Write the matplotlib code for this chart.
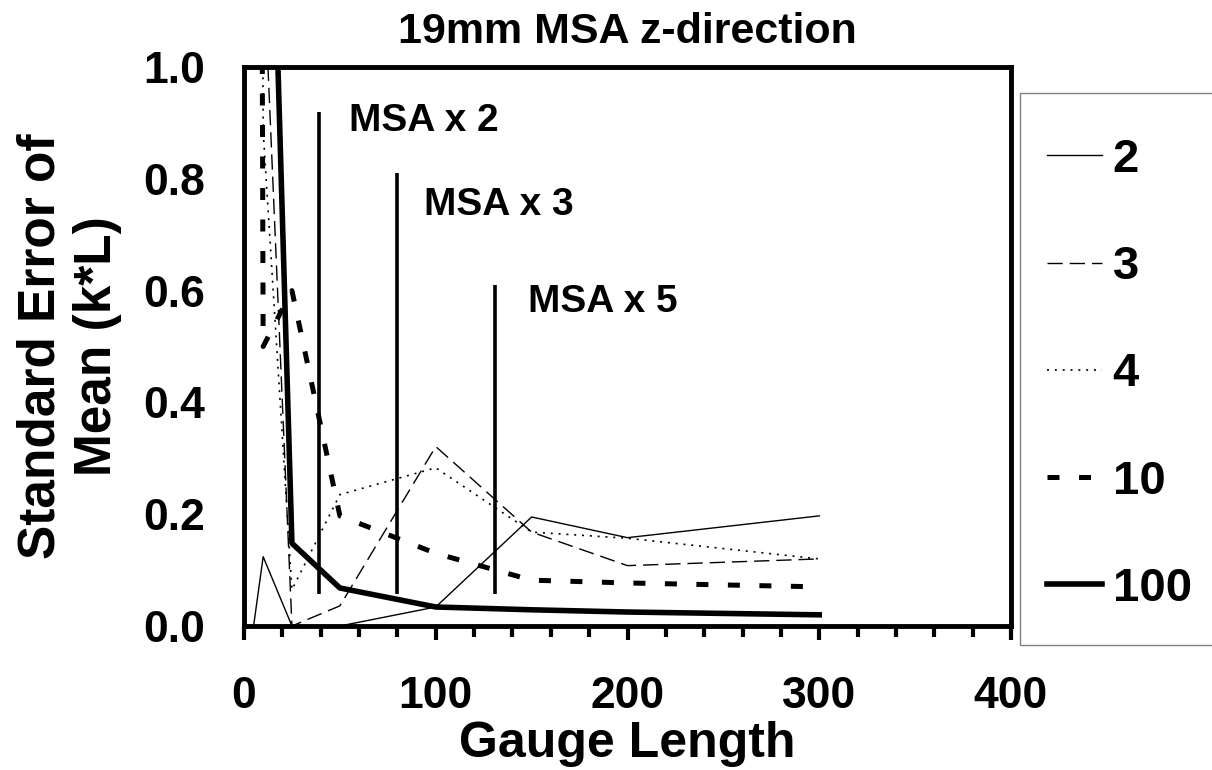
import numpy as np
import matplotlib
matplotlib.use('Agg')
import matplotlib.pyplot as plt
from matplotlib.ticker import MultipleLocator, FormatStrFormatter
from matplotlib.patches import Rectangle

plt.rcParams['font.family'] = ['Liberation Sans', 'DejaVu Sans']
plt.rcParams['font.weight'] = 'bold'

# gauge lengths and standard error of mean for each series
gauge = [5, 10, 25, 50, 100, 150, 200, 300]
se_2 = [0.0, 0.124, 0.0, 0.0, 0.034, 0.195, 0.158, 0.197]
se_3 = [np.nan, 1.2, 0.0, 0.036, 0.321, 0.168, 0.108, 0.12]
se_4 = [5.0, 0.885, 0.065, 0.235, 0.283, 0.168, 0.157, 0.12]
se_10 = [6.0, 0.5, 0.6, 0.197, 0.13, 0.082, 0.077, 0.07]
se_100 = [np.nan, 1.9, 0.148, 0.068, 0.034, 0.029, 0.025, 0.02]
series_labels = ['2', '3', '4', '10', '100']

# MSA marker lines
msa_x = [39, 80, 131]
msa_top = [0.92, 0.81, 0.61]
msa_bottom = [0.058, 0.058, 0.058]
msa_labels = ['MSA x 2', 'MSA x 3', 'MSA x 5']

fig = plt.figure(figsize=(12.12, 7.7), dpi=100)
W, H = 1212, 770
ax = fig.add_axes([244 / W, 1 - 626 / H, (1011 - 244) / W, (626 - 67) / H])

l2, = ax.plot(gauge, se_2, color='black', lw=1.0)
l3, = ax.plot(gauge, se_3, color='black', lw=1.0, dashes=(11, 5))
l4, = ax.plot(gauge, se_4, color='black', lw=1.2, dashes=(1.2, 3.5))
l10, = ax.plot(gauge, se_10, color='black', lw=3.6, dashes=(2.4, 3.9))
l100, = ax.plot(gauge, se_100, color='black', lw=4.0)

ax.vlines(msa_x, msa_bottom, msa_top, color='black', lw=2.6)
text_pos = [(55, 0.885), (94, 0.735), (148, 0.561)]
for (tx, ty), lab in zip(text_pos, msa_labels):
    ax.text(tx, ty, lab, fontsize=28, fontweight='bold', va='baseline', ha='left')

ax.set_xlim(0, 400)
ax.set_ylim(0, 1.0)
ax.xaxis.set_major_locator(MultipleLocator(100))
ax.xaxis.set_minor_locator(MultipleLocator(20))
ax.yaxis.set_major_locator(MultipleLocator(0.2))
ax.yaxis.set_major_formatter(FormatStrFormatter('%.1f'))

for s in ax.spines.values():
    s.set_linewidth(3.5)

ax.tick_params(axis='x', which='major', length=10, width=3, pad=26, labelsize=32)
ax.tick_params(axis='x', which='minor', length=8, width=3)
ax.tick_params(axis='y', which='major', length=0, pad=28, labelsize=32)

ax.set_title('19mm MSA z-direction', fontsize=31, fontweight='bold', pad=17)
ax.set_xlabel('Gauge Length', fontsize=36, fontweight='bold')
ax.xaxis.label.set_va('baseline')
ax.xaxis.set_label_coords(0.5, -(757 - 626) / 559)
ax.set_ylabel('Standard Error of\nMean (k*L)', fontsize=37, fontweight='bold', linespacing=1.2)
ax.yaxis.label.set_va('center')
ax.yaxis.set_label_coords(-(244 - 69) / 767, 0.5)

# legend entries without frame, box drawn separately (it runs past the right edge)
leg = ax.legend([l2, l3, l4, l10, l100], series_labels, loc='upper left',
                bbox_to_anchor=(1020 / W, 1 - 111 / H), bbox_transform=fig.transFigure,
                fontsize=34, frameon=False,
                handlelength=1.17, handletextpad=0.22, labelspacing=1.34,
                borderpad=0.57, borderaxespad=0)
for t in leg.get_texts():
    t.set_fontweight('bold')
fig.patches.append(Rectangle((1020 / W, 1 - 645 / H), 220 / W, (645 - 93) / H,
                             transform=fig.transFigure, fill=False,
                             edgecolor='#808080', lw=1.0))

fig.savefig('out.png', dpi=100)
